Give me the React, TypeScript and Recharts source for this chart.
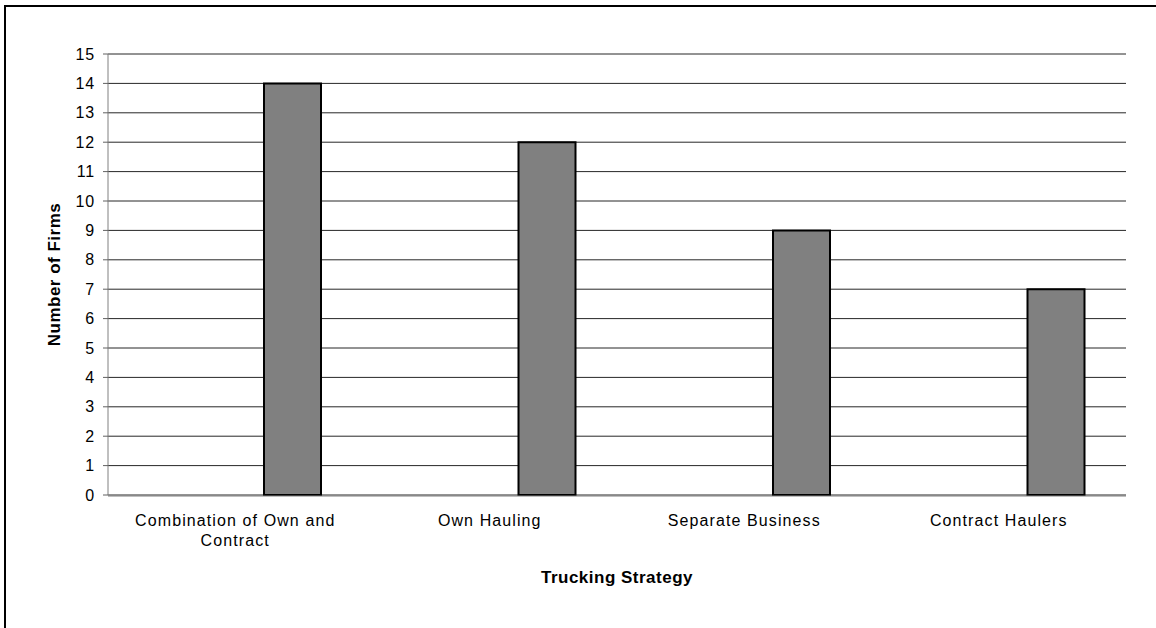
import { BarChart, Bar, XAxis, YAxis, CartesianGrid, Text } from "recharts";

const FONT = "'Liberation Sans', Arial, sans-serif";

const categories = ["Combination of Own and Contract", "Own Hauling", "Separate Business", "Contract Haulers"];
const firms = [14, 12, 9, 7];
// the source chart keeps two empty series in front of the real one
const emptyA = [null, null, null, null];
const emptyB = [null, null, null, null];
const yTicks = [0, 1, 2, 3, 4, 5, 6, 7, 8, 9, 10, 11, 12, 13, 14, 15];
const edgeTicks = [0, 1, 2, 3, 4];

const data = categories.map((c, i) => ({ name: c, a: emptyA[i], b: emptyB[i], firms: firms[i] }));

const txt = { fontFamily: FONT, fontSize: 16, letterSpacing: "0.8px" };
const catTxt = { fontFamily: FONT, fontSize: 16, letterSpacing: "1.1px" };
const titleTxt = { fontFamily: FONT, fontSize: 17, fontWeight: 700, letterSpacing: "0.5px" };

function CategoryTick({ x, y, payload }: any) {
  return (
    <Text x={x} y={y + 20} width={240} textAnchor="middle" verticalAnchor="start" lineHeight="20px" fill="#000" fontSize={16} fontFamily={FONT} style={catTxt}>
      {payload.value}
    </Text>
  );
}

export default function App() {
  return (
    <div style={{ position: "fixed", left: 0, top: 0, width: 1156, height: 628, background: "#fff", overflow: "hidden", fontFamily: FONT }}>
      <div style={{ position: "absolute", left: 4, top: 5, width: 1200, height: 700, borderTop: "2px solid #000", borderLeft: "2px solid #000" }} />
      <div style={{ position: "absolute", left: 0, top: 0 }}>
        <BarChart width={1156} height={628} data={data} margin={{ top: 54, right: 30, left: 0, bottom: 131 }} barGap={0}>
          <CartesianGrid vertical={false} stroke="#000" strokeOpacity={0.85} />
          <XAxis xAxisId="edge" type="number" domain={[0, 4]} ticks={edgeTicks} allowDataOverflow height={1} tick={false} tickSize={5} axisLine={{ stroke: "#808080" }} tickLine={{ stroke: "#606060" }} />
          <XAxis
            dataKey="name"
            height={1}
            axisLine={false}
            tickLine={false}
            tickSize={0}
            tickMargin={0}
            interval={0}
            tick={<CategoryTick />}
            label={{ value: "Trucking Strategy", position: "bottom", offset: 75, fill: "#000", fontSize: 17, fontWeight: 700, style: titleTxt }}
          />
          <YAxis
            width={108}
            domain={[0, 15]}
            ticks={yTicks}
            interval={0}
            tickSize={5}
            tickMargin={8}
            axisLine={{ stroke: "#808080" }}
            tickLine={{ stroke: "#606060" }}
            tick={{ fill: "#000", fontSize: 16, fontFamily: FONT, style: txt }}
            label={{ value: "Number of Firms", angle: -90, position: "center", fill: "#000", fontSize: 17, fontWeight: 700, style: titleTxt }}
          />
          <Bar dataKey="a" barSize={57} fill="#808080" isAnimationActive={false} />
          <Bar dataKey="b" barSize={57} fill="#808080" isAnimationActive={false} />
          <Bar dataKey="firms" barSize={57} fill="#808080" stroke="#000" strokeWidth={2} isAnimationActive={false} />
        </BarChart>
      </div>
    </div>
  );
}
